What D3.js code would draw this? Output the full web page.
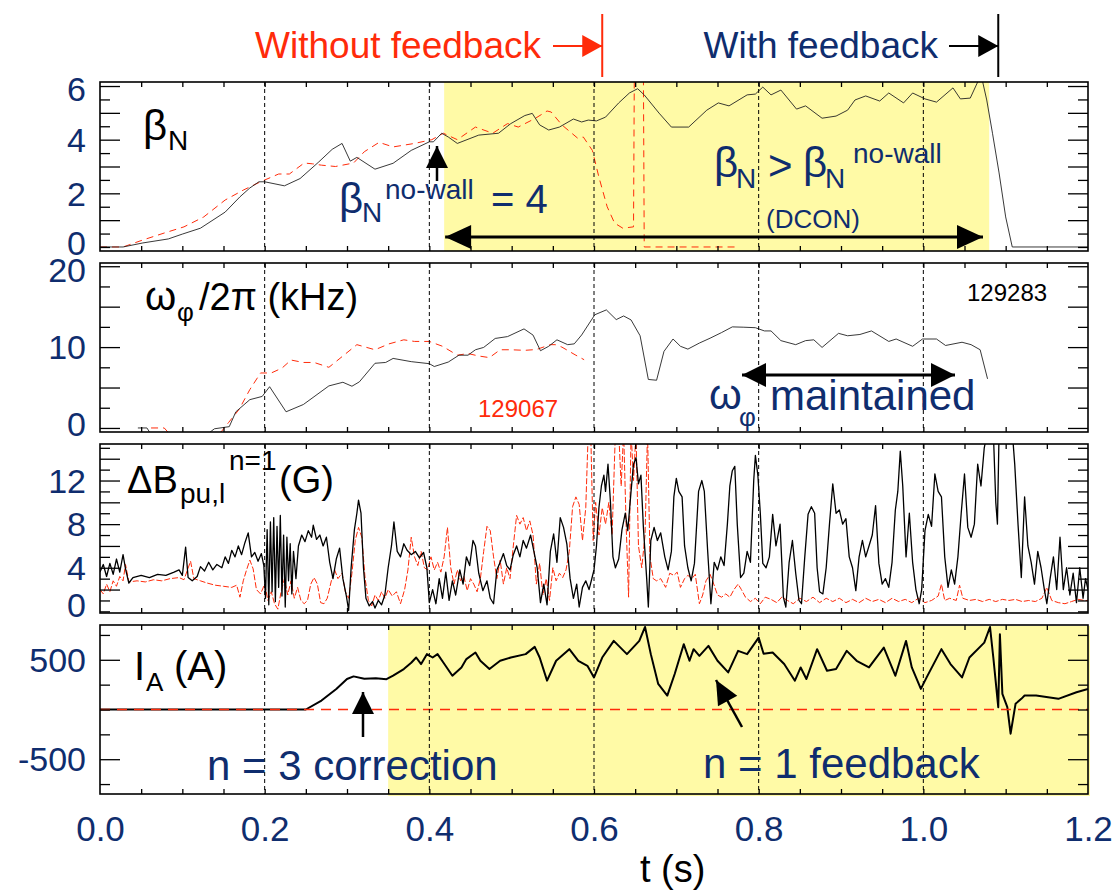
<!DOCTYPE html>
<html>
<head>
<meta charset="utf-8">
<script src="https://cdn.jsdelivr.net/npm/d3@7"></script>
<style>
body { margin: 0; background: #fff; }
svg { display: block; font-family: "Liberation Sans", Arial, Helvetica, sans-serif; }
</style>
</head>
<body>
<div id="chart"></div>
<script>
var W = 1119, H = 896;
var navy = "#0f2d6e", red = "#ff2b0a", yellow = "#fffaa6";

// ---- data (t in s, value) ----
// beta_N, shot 129283 (with feedback) and 129067 (without)
var betaFb = [[0,0],[0.028,0],[0.052,0.15],[0.083,0.3],[0.1,0.48],[0.122,0.7],[0.152,1.3],[0.17,1.87],[0.182,2.2],[0.193,2.43],[0.2,2.43],[0.224,2.28],[0.243,2.55],[0.265,3.15],[0.282,3.64],[0.294,3.86],[0.304,3.2],[0.312,3.34],[0.334,2.9],[0.356,3.12],[0.378,3.6],[0.4,3.92],[0.405,3.92],[0.415,4.24],[0.423,4.1],[0.434,3.86],[0.46,4.17],[0.484,4.24],[0.499,4.6],[0.516,4.9],[0.525,4.98],[0.534,4.55],[0.545,4.36],[0.558,4.47],[0.575,4.77],[0.585,4.66],[0.593,4.73],[0.603,4.7],[0.614,4.84],[0.63,5.37],[0.643,5.74],[0.653,5.9],[0.661,5.67],[0.679,4.99],[0.694,4.47],[0.715,4.47],[0.737,5.1],[0.751,5.37],[0.764,5.26],[0.786,5.67],[0.796,5.7],[0.805,5.96],[0.815,5.67],[0.827,5.85],[0.846,5.14],[0.857,5.26],[0.877,4.8],[0.894,4.88],[0.908,5.1],[0.917,5.48],[0.93,5.63],[0.947,5.44],[0.958,5.74],[0.976,5.37],[0.987,5.74],[1.002,5.52],[1.016,5.4],[1.036,5.93],[1.045,5.52],[1.057,5.55],[1.066,6.15],[1.071,6.3],[1.077,5.48],[1.084,4.24],[1.092,2.76],[1.1,1.12],[1.108,0],[1.2,0]];
var betaNo = [[0,0],[0.028,0],[0.052,0.26],[0.078,0.52],[0.102,0.75],[0.126,1.12],[0.152,1.75],[0.174,2.12],[0.195,2.43],[0.217,2.72],[0.23,2.72],[0.248,3.13],[0.258,3.1],[0.269,3.05],[0.286,3.0],[0.308,3.13],[0.321,3.55],[0.339,3.9],[0.356,3.73],[0.382,3.86],[0.403,4.0],[0.417,4.24],[0.434,4.0],[0.456,4.47],[0.477,4.24],[0.495,4.6],[0.508,4.47],[0.529,4.8],[0.543,5.07],[0.548,5.03],[0.561,4.55],[0.58,4.06],[0.587,4.1],[0.598,3.6],[0.606,2.6],[0.616,1.5],[0.625,0.89],[0.635,0.7],[0.648,0.75],[0.649,6.6],[0.66,6.6],[0.661,0],[0.773,0]];

// toroidal rotation omega_phi/2pi (kHz)
var omegaFb = [[0.046,0],[0.057,0],[0.062,-0.8],[0.13,-0.8],[0.139,-0.1],[0.157,0.16],[0.165,2.0],[0.182,3.5],[0.197,3.9],[0.206,5.1],[0.226,2.0],[0.247,2.9],[0.278,5.2],[0.295,5.65],[0.306,5.16],[0.315,5.7],[0.334,8.0],[0.347,8.1],[0.356,8.6],[0.378,8.2],[0.4,7.95],[0.406,7.6],[0.423,8.15],[0.436,9.0],[0.447,9.0],[0.456,9.67],[0.466,9.96],[0.48,11.07],[0.495,11.3],[0.515,12.25],[0.526,11.48],[0.535,9.55],[0.545,10.1],[0.555,10.9],[0.568,10.3],[0.576,10.4],[0.585,11.5],[0.601,14.0],[0.615,14.6],[0.627,13.4],[0.636,13.85],[0.645,13.36],[0.656,11.4],[0.666,6.0],[0.676,5.9],[0.685,9.47],[0.696,11.0],[0.705,10.1],[0.714,9.75],[0.728,10.5],[0.741,11.1],[0.755,11.8],[0.768,12.5],[0.782,12.46],[0.796,12.4],[0.807,12.0],[0.815,12.0],[0.827,10.8],[0.845,10.3],[0.857,10.8],[0.867,10.9],[0.877,9.96],[0.897,11.7],[0.908,11.4],[0.923,11.56],[0.937,12.0],[0.958,10.7],[0.967,11.0],[0.987,10.1],[0.999,11.0],[1.016,11.0],[1.027,10.2],[1.047,10.6],[1.058,10.3],[1.069,9.67],[1.078,6.07]];
var omegaNo = [[0.062,0],[0.078,0],[0.085,-0.8],[0.14,-0.8],[0.147,-0.5],[0.156,0.65],[0.169,2.3],[0.182,4.75],[0.195,6.8],[0.208,6.8],[0.221,7.4],[0.232,8.4],[0.247,8.1],[0.26,8.1],[0.278,7.5],[0.295,8.9],[0.312,10.3],[0.334,9.67],[0.351,10.4],[0.369,10.9],[0.382,10.7],[0.4,10.7],[0.416,10.1],[0.434,9.0],[0.447,9.2],[0.46,8.9],[0.473,8.7],[0.486,9.67],[0.499,9.67],[0.516,9.6],[0.53,9.7],[0.547,10.3],[0.553,10.3],[0.561,10.0],[0.577,9.05],[0.588,8.44]];

// n=1 pickup amplitude (G)
var dbFb = [[0,3.6],[0.004,4.3],[0.008,3.2],[0.012,4.4],[0.016,3.4],[0.02,4.8],[0.024,3.6],[0.028,5.2],[0.031,3.9],[0.035,2.6],[0.04,3.1],[0.05,3.3],[0.06,3.1],[0.07,3.4],[0.08,3.3],[0.09,3.6],[0.096,3.8],[0.1,3.3],[0.104,5.9],[0.107,3.1],[0.112,2.8],[0.118,3.2],[0.122,4.1],[0.127,3.7],[0.132,4.5],[0.137,3.8],[0.142,4.3],[0.148,4.0],[0.152,5.0],[0.156,4.4],[0.16,5.6],[0.164,5.0],[0.168,6.0],[0.172,5.2],[0.176,6.3],[0.18,7.2],[0.184,5.0],[0.188,5.4],[0.192,4.6],[0.196,5.3],[0.199,4.2],[0.201,1.2],[0.203,7.5],[0.205,0.6],[0.207,8.2],[0.209,1.8],[0.211,8.6],[0.213,0.9],[0.215,7.8],[0.217,2.2],[0.219,8.8],[0.221,1.4],[0.223,7.0],[0.225,0.4],[0.227,6.8],[0.229,2.8],[0.231,6.2],[0.233,1.6],[0.235,5.5],[0.238,3.0],[0.241,6.0],[0.245,7.0],[0.249,6.4],[0.253,7.4],[0.257,6.8],[0.259,7.9],[0.263,6.6],[0.267,7.0],[0.271,6.0],[0.275,6.8],[0.279,4.5],[0.283,3.0],[0.287,4.8],[0.291,5.8],[0.295,3.0],[0.299,1.5],[0.302,0.1],[0.305,4.0],[0.309,7.5],[0.312,9.0],[0.314,10.2],[0.317,9.0],[0.32,4.0],[0.323,1.2],[0.327,0.5],[0.331,0.9],[0.334,0.3],[0.338,1.0],[0.342,0.6],[0.346,1.5],[0.35,4.0],[0.354,6.0],[0.357,8.2],[0.361,5.5],[0.365,5.0],[0.369,6.2],[0.373,5.6],[0.378,5.2],[0.383,5.5],[0.388,4.9],[0.393,5.4],[0.397,4.0],[0.4,0.8],[0.404,2.0],[0.408,0.7],[0.412,3.0],[0.416,1.2],[0.42,3.6],[0.424,1.0],[0.428,2.8],[0.432,1.5],[0.437,3.8],[0.441,2.5],[0.445,5.0],[0.449,4.2],[0.453,6.5],[0.456,6.0],[0.46,3.5],[0.465,1.9],[0.47,2.8],[0.474,1.2],[0.478,0.7],[0.482,3.8],[0.486,4.5],[0.49,5.3],[0.494,4.2],[0.498,3.8],[0.502,5.2],[0.506,6.0],[0.51,5.0],[0.514,6.5],[0.518,5.8],[0.523,7.0],[0.527,5.5],[0.531,4.0],[0.535,0.8],[0.539,2.5],[0.543,0.6],[0.547,5.5],[0.551,7.1],[0.555,4.5],[0.559,8.6],[0.563,7.7],[0.567,6.2],[0.571,3.0],[0.575,1.2],[0.579,2.5],[0.582,0.4],[0.586,2.2],[0.59,2.8],[0.594,2.0],[0.598,3.2],[0.6,3.8],[0.603,6.0],[0.606,9.5],[0.609,11.5],[0.612,12.5],[0.614,11.0],[0.617,13.5],[0.62,10.0],[0.623,5.0],[0.626,4.0],[0.63,4.8],[0.634,7.5],[0.638,9.0],[0.641,7.4],[0.645,11.0],[0.648,13.5],[0.651,14.1],[0.654,11.7],[0.657,12.5],[0.66,7.7],[0.664,3.0],[0.666,0.4],[0.669,6.5],[0.673,7.7],[0.677,6.5],[0.681,7.2],[0.686,5.0],[0.69,3.8],[0.694,5.5],[0.697,10.5],[0.7,12.2],[0.703,11.0],[0.707,10.5],[0.71,6.0],[0.714,4.0],[0.718,2.8],[0.722,4.4],[0.727,11.0],[0.731,12.0],[0.734,11.0],[0.738,5.6],[0.742,0.7],[0.746,4.5],[0.75,3.8],[0.754,5.0],[0.758,4.2],[0.762,8.0],[0.765,11.5],[0.768,12.9],[0.771,13.3],[0.774,8.0],[0.778,3.1],[0.782,3.5],[0.786,5.5],[0.79,4.5],[0.794,12.0],[0.796,14.3],[0.799,12.5],[0.802,9.0],[0.805,4.4],[0.809,4.0],[0.813,5.0],[0.817,8.9],[0.821,6.0],[0.826,8.0],[0.83,1.3],[0.833,0.4],[0.837,4.5],[0.841,6.5],[0.845,3.5],[0.849,1.0],[0.852,0.7],[0.856,5.0],[0.86,8.9],[0.864,9.6],[0.868,9.0],[0.871,4.0],[0.874,1.8],[0.878,1.6],[0.882,4.0],[0.886,8.0],[0.89,11.7],[0.894,9.0],[0.898,9.3],[0.902,8.0],[0.906,8.5],[0.91,5.0],[0.914,4.0],[0.918,1.9],[0.922,5.0],[0.926,6.5],[0.93,5.0],[0.934,6.0],[0.938,7.0],[0.942,9.7],[0.946,4.4],[0.95,2.5],[0.954,3.0],[0.958,2.2],[0.962,4.5],[0.966,9.3],[0.969,11.0],[0.972,14.7],[0.975,11.5],[0.979,5.0],[0.983,9.0],[0.987,4.5],[0.991,2.0],[0.995,0.7],[0.998,2.0],[1.002,7.4],[1.006,8.9],[1.01,7.8],[1.014,12.6],[1.018,11.0],[1.022,10.5],[1.026,5.0],[1.03,2.2],[1.034,3.8],[1.038,2.5],[1.042,5.0],[1.046,9.0],[1.05,12.6],[1.054,7.7],[1.058,6.8],[1.062,8.0],[1.066,13.5],[1.07,11.5],[1.074,15.0],[1.078,16.5],[1.085,16.5],[1.088,10.0],[1.09,8.0],[1.092,16.5],[1.108,16.5],[1.111,13.5],[1.115,8.0],[1.119,3.1],[1.123,10.5],[1.127,6.0],[1.131,4.5],[1.135,2.5],[1.139,5.5],[1.143,4.0],[1.147,2.0],[1.15,0.7],[1.154,3.0],[1.158,5.0],[1.162,2.0],[1.166,6.8],[1.17,2.0],[1.174,4.0],[1.178,1.5],[1.182,3.5],[1.186,0.8],[1.19,4.0],[1.194,1.2],[1.197,3.0],[1.2,2.0]];
var dbNo = [[0,2.0],[0.004,1.6],[0.008,2.5],[0.012,1.8],[0.016,2.8],[0.02,2.3],[0.024,3.2],[0.028,2.8],[0.031,4.3],[0.035,2.7],[0.045,2.8],[0.055,2.7],[0.065,2.9],[0.075,2.8],[0.085,3.0],[0.096,3.1],[0.102,2.9],[0.11,4.6],[0.114,3.0],[0.122,2.8],[0.13,2.6],[0.14,2.4],[0.15,2.3],[0.16,2.2],[0.166,2.4],[0.17,1.3],[0.174,2.8],[0.178,3.8],[0.182,4.7],[0.186,3.9],[0.19,2.0],[0.195,1.6],[0.2,2.5],[0.204,1.0],[0.208,1.8],[0.212,0.7],[0.216,0.2],[0.22,1.8],[0.224,3.0],[0.228,1.5],[0.232,2.8],[0.236,1.2],[0.24,2.2],[0.244,1.0],[0.248,0.7],[0.252,1.0],[0.256,2.5],[0.26,3.1],[0.264,2.5],[0.268,0.8],[0.272,0.7],[0.276,1.2],[0.281,2.8],[0.285,3.8],[0.289,3.0],[0.294,3.5],[0.298,1.8],[0.302,1.2],[0.306,3.5],[0.31,6.5],[0.314,7.7],[0.318,6.8],[0.322,3.0],[0.326,1.0],[0.33,0.5],[0.334,1.5],[0.338,1.0],[0.342,1.8],[0.346,1.2],[0.35,2.0],[0.355,1.4],[0.36,1.8],[0.365,0.7],[0.37,2.0],[0.374,3.8],[0.378,6.8],[0.382,5.0],[0.386,4.2],[0.39,5.5],[0.394,4.0],[0.398,3.8],[0.402,5.0],[0.406,3.8],[0.41,4.5],[0.414,3.6],[0.418,5.0],[0.422,7.7],[0.426,4.0],[0.43,2.5],[0.434,3.8],[0.438,2.8],[0.442,3.2],[0.446,1.9],[0.45,3.0],[0.454,2.5],[0.458,1.8],[0.462,3.0],[0.466,5.5],[0.47,7.8],[0.474,7.4],[0.478,5.0],[0.482,3.0],[0.486,4.7],[0.49,2.5],[0.494,4.0],[0.498,3.0],[0.502,6.0],[0.506,8.8],[0.51,8.0],[0.514,8.6],[0.518,7.4],[0.522,8.3],[0.526,7.0],[0.53,2.5],[0.534,4.4],[0.538,1.5],[0.542,3.0],[0.546,1.0],[0.55,4.0],[0.554,2.8],[0.558,3.5],[0.562,3.1],[0.566,3.8],[0.57,5.5],[0.574,9.6],[0.578,10.5],[0.582,9.8],[0.586,6.5],[0.59,9.5],[0.593,16.5],[0.596,16.5],[0.599,6.5],[0.602,10.0],[0.606,7.0],[0.61,9.5],[0.614,8.0],[0.618,10.0],[0.622,7.0],[0.626,16.5],[0.63,16.5],[0.633,11.5],[0.636,16.5],[0.639,8.0],[0.642,1.3],[0.645,16.5],[0.648,12.0],[0.651,16.5],[0.654,6.0],[0.658,4.0],[0.662,7.0],[0.665,16.5],[0.668,5.0],[0.672,3.0],[0.676,2.8],[0.681,3.0],[0.687,2.2],[0.692,3.5],[0.697,3.3],[0.701,3.6],[0.705,2.2],[0.71,3.0],[0.714,3.3],[0.719,3.0],[0.723,3.4],[0.728,0.7],[0.732,1.5],[0.736,2.8],[0.741,3.4],[0.745,2.6],[0.75,1.5],[0.755,1.3],[0.76,1.6],[0.765,1.3],[0.77,2.0],[0.775,2.5],[0.779,2.0],[0.784,1.3],[0.79,0.9],[0.796,1.2],[0.802,0.7],[0.808,1.3],[0.815,1.1],[0.822,0.8],[0.828,1.3],[0.835,1.0],[0.842,0.7],[0.85,1.2],[0.858,0.9],[0.866,1.3],[0.874,0.8],[0.882,1.2],[0.89,0.9],[0.898,1.2],[0.906,0.8],[0.914,1.1],[0.922,0.8],[0.93,1.2],[0.938,0.9],[0.946,1.1],[0.954,0.8],[0.962,1.2],[0.97,0.9],[0.978,1.1],[0.986,0.8],[0.994,1.2],[1.002,0.8],[1.01,1.0],[1.018,1.4],[1.022,2.5],[1.026,1.0],[1.032,1.2],[1.04,1.0],[1.044,2.4],[1.048,1.2],[1.056,1.0],[1.064,1.1],[1.072,0.9],[1.08,1.1],[1.088,0.9],[1.096,1.1],[1.104,1.0],[1.112,1.1],[1.12,0.9],[1.128,1.0],[1.136,0.9],[1.144,1.2],[1.15,2.2],[1.156,1.0],[1.164,0.8],[1.172,0.7],[1.18,0.9],[1.188,1.1],[1.196,1.0],[1.2,1.0]];

// coil current I_A (A)
var iaFb = [[0,0],[0.25,0],[0.269,90],[0.287,207],[0.3,307],[0.308,333],[0.321,310],[0.335,315],[0.348,305],[0.356,340],[0.369,407],[0.378,470],[0.384,523],[0.39,457],[0.397,557],[0.404,523],[0.41,557],[0.417,473],[0.428,340],[0.439,423],[0.445,507],[0.456,573],[0.462,490],[0.473,407],[0.486,490],[0.499,523],[0.517,557],[0.528,630],[0.534,523],[0.543,290],[0.554,490],[0.57,607],[0.581,490],[0.592,440],[0.6,323],[0.61,523],[0.624,690],[0.64,557],[0.655,690],[0.662,830],[0.669,557],[0.678,257],[0.689,140],[0.698,357],[0.709,657],[0.716,490],[0.721,607],[0.728,540],[0.739,640],[0.75,490],[0.763,373],[0.775,590],[0.786,557],[0.8,723],[0.806,560],[0.817,573],[0.831,457],[0.844,290],[0.851,423],[0.858,307],[0.871,607],[0.883,390],[0.894,407],[0.907,590],[0.919,490],[0.934,423],[0.952,623],[0.966,340],[0.979,690],[0.986,423],[0.997,207],[1.004,323],[1.022,607],[1.033,457],[1.047,323],[1.056,523],[1.074,673],[1.081,830],[1.085,523],[1.091,23],[1.093,757],[1.096,157],[1.102,23],[1.106,-243],[1.112,57],[1.119,107],[1.123,140],[1.137,140],[1.164,107],[1.186,173],[1.2,207]];
var iaNo = [[0,0],[1.2,0]];

var xTicksLabel = [0, 0.2, 0.4, 0.6, 0.8, 1.0, 1.2];
var guideTimes = [0.2, 0.4, 0.6, 0.8, 1.0];

// ---- layout ----
var left = 100, right = 1088, ph = 169;
var x = d3.scaleLinear().domain([0, 1.2]).range([left, right]);

var panels = [
  { top: 82, dom: [-0.15, 6.15], ticks: d3.range(0, 6.01, 0.5), isLong: function (v) { return v % 1 === 0 && v > 0; }, labels: [0, 2, 4, 6] },
  { top: 263, dom: [-0.5, 20.4], ticks: d3.range(0, 20.01, 2.5), isLong: function (v) { return v % 5 === 0; }, labels: [0, 10, 20] },
  { top: 444, dom: [-0.15, 15.35], ticks: d3.range(0, 15.01, 1), isLong: function (v) { return v % 2 === 0 && v > 0; }, labels: [0, 4, 8, 12] },
  { top: 625, dom: [-850, 850], ticks: [-750, -500, -250, 0, 250, 500, 750], isLong: function (v) { return Math.abs(v) === 500; }, labels: [-500, 500] }
];

var svg = d3.select("#chart").append("svg")
    .attr("width", W)
    .attr("height", H);

var defs = svg.append("defs");

panels.forEach(function (p, i) {
    p.bottom = p.top + ph;
    p.y = d3.scaleLinear().domain(p.dom).range([p.bottom, p.top]);
    defs.append("clipPath").attr("id", "clip" + i)
        .append("rect").attr("x", left).attr("y", p.top).attr("width", right - left).attr("height", ph);
});

// yellow shading (feedback on)
svg.append("rect")
    .attr("x", x(0.418)).attr("y", panels[0].top)
    .attr("width", x(1.08) - x(0.418)).attr("height", ph)
    .attr("fill", yellow);
svg.append("rect")
    .attr("x", x(0.35)).attr("y", panels[3].top + 1)
    .attr("width", right + 2 - x(0.35)).attr("height", ph + 1)
    .attr("fill", yellow);

function drawSeries(p, i, data, color, width, dash) {
    var line = d3.line()
        .x(function (d) { return x(d[0]); })
        .y(function (d) { return p.y(d[1]); });
    svg.append("path")
        .datum(data)
        .attr("clip-path", "url(#clip" + i + ")")
        .attr("d", line)
        .attr("fill", "none")
        .attr("stroke", color)
        .attr("stroke-width", width)
        .attr("stroke-linejoin", "round")
        .attr("stroke-dasharray", dash || null);
}

// curves
drawSeries(panels[0], 0, betaNo, red, 1, "7,5");
drawSeries(panels[0], 0, betaFb, "#222", 0.9);
drawSeries(panels[1], 1, omegaNo, red, 1, "7,5");
drawSeries(panels[1], 1, omegaFb, "#222", 0.9);
drawSeries(panels[2], 2, dbNo, red, 1, "6,2");
drawSeries(panels[2], 2, dbFb, "#000", 1.3);
drawSeries(panels[3], 3, iaFb, "#000", 2);
drawSeries(panels[3], 3, iaNo, red, 1.6, "10,7");

// dashed time guides
panels.forEach(function (p) {
    svg.selectAll(null)
        .data(guideTimes)
        .enter()
        .append("line")
        .attr("x1", function (d) { return x(d); })
        .attr("x2", function (d) { return x(d); })
        .attr("y1", p.top)
        .attr("y2", p.bottom)
        .attr("stroke", "#000")
        .attr("stroke-width", 1)
        .attr("stroke-dasharray", "4,3");
});

// axes, ticks, frame
function clean(g) {
    g.select(".domain").remove();
    g.selectAll("line").attr("stroke", "#000").attr("stroke-width", 1.3);
}
// plain hyphen for negatives, like the original
var yFmt = function (d) { return String(d); };

panels.forEach(function (p, i) {
    var longT = p.ticks.filter(p.isLong);
    var shortT = p.ticks.filter(function (v) { return !p.isLong(v); });

    svg.append("g").attr("transform", "translate(" + left + ",0)")
        .call(d3.axisLeft(p.y).tickValues(longT).tickSize(-20).tickFormat(""))
        .call(clean);
    svg.append("g").attr("transform", "translate(" + left + ",0)")
        .call(d3.axisLeft(p.y).tickValues(shortT).tickSize(-10).tickFormat(""))
        .call(clean);
    svg.append("g").attr("transform", "translate(" + right + ",0)")
        .call(d3.axisRight(p.y).tickValues(longT).tickSize(-20).tickFormat(""))
        .call(clean);
    svg.append("g").attr("transform", "translate(" + right + ",0)")
        .call(d3.axisRight(p.y).tickValues(shortT).tickSize(-10).tickFormat(""))
        .call(clean);

    // time ticks on top and bottom
    var tt = d3.range(0.05, 1.2, 0.05);
    svg.append("g").attr("transform", "translate(0," + p.bottom + ")")
        .call(d3.axisBottom(x).tickValues(tt).tickSize(-5).tickFormat(""))
        .call(clean);
    svg.append("g").attr("transform", "translate(0," + p.top + ")")
        .call(d3.axisTop(x).tickValues(tt).tickSize(-5).tickFormat(""))
        .call(clean);

    // y labels, kept inside the panel's height
    var lab = svg.append("g").attr("transform", "translate(" + left + ",0)")
        .style("color", navy)
        .call(d3.axisLeft(p.y).tickValues(p.labels).tickSize(0).tickPadding(14).tickFormat(yFmt));
    lab.select(".domain").remove();
    lab.selectAll(".tick")
        .attr("transform", function (d) {
            var yy = Math.max(Math.min(p.y(d), p.bottom - 8), p.top + 7);
            return "translate(0," + yy + ")";
        });
    lab.selectAll("text").style("font-size", "34px").attr("dy", "0.36em");

    svg.append("rect")
        .attr("x", left).attr("y", p.top)
        .attr("width", right - left).attr("height", ph)
        .attr("fill", "none").attr("stroke", "#000").attr("stroke-width", 1.6);
});

// x labels
var xl = svg.append("g").attr("transform", "translate(0," + panels[3].bottom + ")")
    .style("color", navy)
    .call(d3.axisBottom(x).tickValues(xTicksLabel).tickSize(0).tickPadding(22).tickFormat(d3.format(".1f")));
xl.select(".domain").remove();
xl.selectAll("text").style("font-size", "35px");

svg.append("text").attr("x", 640).attr("y", 882)
    .style("font-size", "38px").attr("fill", "#000").text("t (s)");

// ---- annotations ----
function txt(xp, yp, s, size, color) {
    return svg.append("text").attr("x", xp).attr("y", yp)
        .style("font-size", size + "px").attr("fill", color).text(s);
}
function head(x1, y1, x2, y2, len, half, color) {
    var a = Math.atan2(y2 - y1, x2 - x1);
    var bx = x2 - len * Math.cos(a), by = y2 - len * Math.sin(a);
    var px = -Math.sin(a) * half, py = Math.cos(a) * half;
    svg.append("polygon")
        .attr("points", [[x2, y2], [bx + px, by + py], [bx - px, by - py]].map(function (q) { return q.join(","); }).join(" "))
        .attr("fill", color);
}
function arrow(x1, y1, x2, y2, color, w, len, half, both) {
    svg.append("line").attr("x1", x1).attr("y1", y1).attr("x2", x2).attr("y2", y2)
        .attr("stroke", color).attr("stroke-width", w);
    head(x1, y1, x2, y2, len, half, color);
    if (both) head(x2, y2, x1, y1, len, half, color);
}

// top markers
txt(541, 58, "Without feedback", 37, red).attr("text-anchor", "end");
arrow(553, 46, x(0.61), 46, red, 2, 20, 11);
svg.append("line").attr("x1", x(0.61)).attr("x2", x(0.61)).attr("y1", 14).attr("y2", 77)
    .attr("stroke", red).attr("stroke-width", 2);
txt(938, 58, "With feedback", 37, navy).attr("text-anchor", "end");
arrow(949, 46, x(1.091), 46, "#000", 2, 20, 11);
svg.append("line").attr("x1", x(1.091)).attr("x2", x(1.091)).attr("y1", 14).attr("y2", 77)
    .attr("stroke", "#000").attr("stroke-width", 2);

// panel 1
txt(143, 140, "β", 42, "#000");
txt(168, 150, "N", 28, "#000");
txt(339, 213, "β", 42, navy);
txt(362, 222, "N", 28, navy);
txt(385, 199, "no-wall", 28, navy);
txt(491, 213, "= 4", 40, navy);
arrow(437, 181, 437, 146, "#000", 2.5, 22, 11);
txt(714, 177, "β", 42, navy);
txt(736, 188, "N", 28, navy);
txt(768, 180, ">", 42, navy);
txt(803, 177, "β", 42, navy);
txt(825, 188, "N", 28, navy);
txt(853, 163, "no-wall", 28, navy);
txt(766, 228, "(DCON)", 26, navy);
arrow(x(0.418) + 1, 237, 983, 237, "#000", 3, 26, 12, true);

// panel 2
txt(145, 310, "ω", 40, "#000");
txt(177, 321, "φ", 26, "#000");
txt(199, 310, "/2π (kHz)", 38, "#000");
txt(967, 301, "129283", 24, "#000");
txt(478, 417, "129067", 24, red);
arrow(742, 375, 955, 375, "#000", 3, 24, 12, true);
txt(709, 409, "ω", 42, navy);
txt(739, 426, "φ", 26, navy);
txt(770, 410, "maintained", 42, navy);

// panel 3
txt(127, 493, "ΔB", 38, "#000");
txt(180, 503, "pu,l", 28, "#000");
txt(229, 470, "n=1", 28, "#000");
txt(279, 493, "(G)", 38, "#000");

// panel 4
txt(134, 680, "I", 40, "#000");
txt(146, 691, "A", 26, "#000");
txt(174, 680, "(A)", 40, "#000");
arrow(363, 737, 363, 692, "#000", 2.5, 22, 11);
txt(207, 780, "n = 3 correction", 42, navy);
arrow(742, 727, 716, 680, "#000", 2.5, 24, 11);
txt(703, 778, "n = 1 feedback", 42, navy);
</script>
</body>
</html>
